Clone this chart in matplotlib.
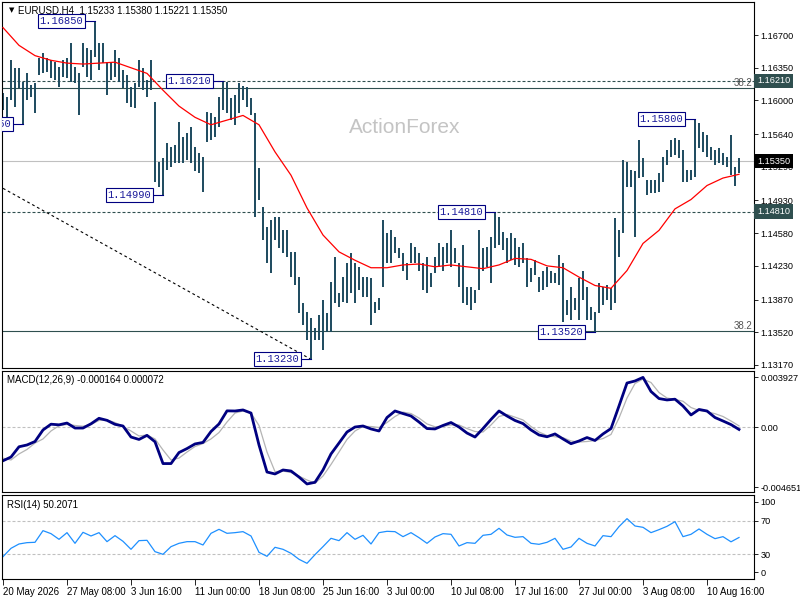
#EURUSD H4 chart with MACD and RSI panels
import numpy as np
import matplotlib
matplotlib.use("Agg")
from matplotlib import pyplot as plt
from matplotlib import transforms

plt.rcParams['font.family'] = ['Liberation Sans', 'DejaVu Sans']

# one entry per two H4 bars
bar_high = [
    1.1608, 1.1604, 1.1643, 1.1635, 1.1635, 1.1620, 1.1629, 1.1617, 1.1619, 1.1645,
    1.1651, 1.1645, 1.1643, 1.1641, 1.1636, 1.1643, 1.1645, 1.1661, 1.1636, 1.1629,
    1.1661, 1.1656, 1.1654, 1.1685, 1.1661, 1.1661, 1.1641, 1.1640, 1.1654, 1.1645,
    1.1633, 1.1627, 1.1614, 1.1619, 1.1643, 1.1635, 1.1622, 1.1643, 1.1598, 1.1534,
    1.1538, 1.1555, 1.1550, 1.1552, 1.1577, 1.1561, 1.1565, 1.1572, 1.1550, 1.1544,
    1.1539, 1.1588, 1.1587, 1.1582, 1.1604, 1.1621, 1.1620, 1.1603, 1.1606, 1.1619,
    1.1616, 1.1614, 1.1603, 1.1587, 1.1528, 1.1486, 1.1465, 1.1472, 1.1475, 1.1475,
    1.1461, 1.1461, 1.1438, 1.1438, 1.1411, 1.1383, 1.1374, 1.1367, 1.1357, 1.1370,
    1.1387, 1.1373, 1.1406, 1.1433, 1.1394, 1.1411, 1.1426, 1.1437, 1.1426, 1.1422,
    1.1411, 1.1411, 1.1410, 1.1384, 1.1389, 1.1472, 1.1458, 1.1461, 1.1454, 1.1442,
    1.1437, 1.1426, 1.1447, 1.1443, 1.1437, 1.1426, 1.1433, 1.1415, 1.1433, 1.1448,
    1.1443, 1.1447, 1.1461, 1.1442, 1.1426, 1.1445, 1.1400, 1.1400, 1.1397, 1.1461,
    1.1442, 1.1443, 1.1454, 1.1481, 1.1475, 1.1459, 1.1453, 1.1458, 1.1453, 1.1443,
    1.1448, 1.1431, 1.1421, 1.1429, 1.1411, 1.1418, 1.1422, 1.1418, 1.1415, 1.1435,
    1.1426, 1.1387, 1.1400, 1.1389, 1.1410, 1.1417, 1.1400, 1.1379, 1.1374, 1.1405,
    1.1400, 1.1402, 1.1399, 1.1474, 1.1461, 1.1536, 1.1534, 1.1526, 1.1524, 1.1558,
    1.1538, 1.1515, 1.1515, 1.1515, 1.1522, 1.1539, 1.1547, 1.1558, 1.1560, 1.1558,
    1.1547, 1.1526, 1.1526, 1.1580, 1.1576, 1.1566, 1.1563, 1.1550, 1.1547, 1.1549,
    1.1544, 1.1539, 1.1563, 1.1529, 1.1538]
bar_low = [
    1.1590, 1.1581, 1.1600, 1.1593, 1.1613, 1.1575, 1.1600, 1.1604, 1.1587, 1.1627,
    1.1629, 1.1630, 1.1624, 1.1622, 1.1614, 1.1625, 1.1624, 1.1620, 1.1619, 1.1584,
    1.1636, 1.1625, 1.1622, 1.1647, 1.1633, 1.1640, 1.1606, 1.1622, 1.1625, 1.1620,
    1.1613, 1.1597, 1.1593, 1.1592, 1.1614, 1.1611, 1.1604, 1.1611, 1.1513, 1.1507,
    1.1499, 1.1526, 1.1529, 1.1533, 1.1533, 1.1533, 1.1536, 1.1533, 1.1524, 1.1522,
    1.1502, 1.1556, 1.1558, 1.1561, 1.1572, 1.1590, 1.1587, 1.1579, 1.1574, 1.1587,
    1.1600, 1.1593, 1.1584, 1.1475, 1.1494, 1.1451, 1.1426, 1.1415, 1.1451, 1.1442,
    1.1437, 1.1433, 1.1411, 1.1402, 1.1373, 1.1360, 1.1344, 1.1323, 1.1344, 1.1344,
    1.1333, 1.1352, 1.1352, 1.1383, 1.1379, 1.1384, 1.1383, 1.1394, 1.1383, 1.1397,
    1.1390, 1.1390, 1.1360, 1.1373, 1.1376, 1.1400, 1.1426, 1.1426, 1.1437, 1.1431,
    1.1418, 1.1408, 1.1426, 1.1426, 1.1418, 1.1397, 1.1394, 1.1400, 1.1415, 1.1422,
    1.1418, 1.1426, 1.1422, 1.1426, 1.1400, 1.1383, 1.1381, 1.1376, 1.1383, 1.1397,
    1.1418, 1.1422, 1.1405, 1.1442, 1.1445, 1.1440, 1.1426, 1.1429, 1.1424, 1.1422,
    1.1426, 1.1400, 1.1406, 1.1413, 1.1395, 1.1397, 1.1400, 1.1405, 1.1405, 1.1402,
    1.1363, 1.1370, 1.1365, 1.1376, 1.1365, 1.1387, 1.1365, 1.1365, 1.1352, 1.1373,
    1.1381, 1.1387, 1.1376, 1.1383, 1.1433, 1.1458, 1.1507, 1.1507, 1.1454, 1.1517,
    1.1518, 1.1499, 1.1501, 1.1501, 1.1502, 1.1513, 1.1531, 1.1539, 1.1542, 1.1538,
    1.1513, 1.1513, 1.1515, 1.1518, 1.1549, 1.1545, 1.1539, 1.1536, 1.1531, 1.1533,
    1.1531, 1.1529, 1.1520, 1.1509, 1.1522]

# moving average, read every 4th entry
ma_values = [
    1.1678, 1.1659, 1.1648, 1.1643, 1.1640, 1.1639, 1.1640, 1.1641, 1.1635, 1.1629,
    1.1611, 1.1594, 1.1582, 1.1574, 1.1579, 1.1584, 1.1574, 1.1545, 1.1520, 1.1485,
    1.1456, 1.1438, 1.1429, 1.1421, 1.1421, 1.1424, 1.1425, 1.1422, 1.1424, 1.1422,
    1.1420, 1.1424, 1.1431, 1.1430, 1.1423, 1.1421, 1.1411, 1.1402, 1.1399, 1.1418,
    1.1447, 1.1461, 1.1484, 1.1494, 1.1509, 1.1517, 1.1521]

# indicators, read every 2nd entry
macd_main = [
    -0.00260, -0.00231, -0.00151, -0.00137, -0.00110, -0.00020, 0.00025, 0.00020, 0.00034, -0.00005,
    -0.00005, 0.00028, 0.00071, 0.00055, 0.00024, 0.00011, -0.00075, -0.00094, -0.00062, -0.00112,
    -0.00282, -0.00282, -0.00196, -0.00165, -0.00129, -0.00117, -0.00032, 0.00027, 0.00129, 0.00128,
    0.00136, 0.00112, -0.00137, -0.00348, -0.00363, -0.00332, -0.00340, -0.00387, -0.00441, -0.00428,
    -0.00332, -0.00207, -0.00122, -0.00036, 0.00003, 0.00011, -0.00012, -0.00028, 0.00077, 0.00128,
    0.00108, 0.00089, 0.00042, -0.00009, -0.00012, 0.00015, 0.00038, 0.00003, -0.00044, -0.00075,
    -0.00009, 0.00062, 0.00128, 0.00089, 0.00054, 0.00030, -0.00020, -0.00059, -0.00073, -0.00051,
    -0.00090, -0.00127, -0.00106, -0.00079, -0.00102, -0.00051, -0.00009, 0.00167, 0.00346, 0.00362,
    0.00390, 0.00280, 0.00225, 0.00214, 0.00220, 0.00167, 0.00097, 0.00140, 0.00128, 0.00077,
    0.00050, 0.00022, -0.00016]
macd_signal = [
    -0.00240, -0.00254, -0.00207, -0.00172, -0.00122, -0.00090, -0.00028, 0.00013, 0.00023, 0.00015,
    0.00009, 0.00023, 0.00054, 0.00058, 0.00038, 0.00007, -0.00028, -0.00067, -0.00059, -0.00090,
    -0.00176, -0.00254, -0.00239, -0.00192, -0.00149, -0.00126, -0.00090, -0.00040, 0.00042, 0.00112,
    0.00128, 0.00112, 0.00015, -0.00192, -0.00345, -0.00340, -0.00352, -0.00380, -0.00410, -0.00436,
    -0.00379, -0.00289, -0.00192, -0.00094, -0.00028, 0.00007, 0.00007, -0.00001, 0.00038, 0.00085,
    0.00119, 0.00108, 0.00073, 0.00027, 0.00005, 0.00009, 0.00019, 0.00019, -0.00009, -0.00032,
    -0.00036, 0.00019, 0.00085, 0.00101, 0.00080, 0.00058, 0.00007, -0.00036, -0.00063, -0.00073,
    -0.00080, -0.00106, -0.00114, -0.00110, -0.00102, -0.00087, -0.00055, 0.00073, 0.00229, 0.00342,
    0.00377, 0.00350, 0.00272, 0.00229, 0.00218, 0.00204, 0.00155, 0.00132, 0.00122, 0.00107,
    0.00085, 0.00050, 0.00012]
rsi_values = [
    27.2, 37.2, 42.4, 44.0, 44.4, 58.4, 54.8, 48.0, 56.0, 43.2,
    56.4, 52.0, 56.0, 45.2, 52.4, 45.6, 36.0, 46.4, 46.8, 33.2,
    30.0, 39.2, 43.2, 45.2, 45.2, 41.2, 55.2, 60.0, 55.2, 56.0,
    57.2, 52.0, 32.4, 27.6, 38.4, 36.0, 31.2, 24.0, 19.2, 29.6,
    39.2, 49.2, 46.4, 56.0, 48.0, 52.8, 42.4, 56.0, 57.6, 57.2,
    51.2, 56.0, 50.0, 43.2, 50.8, 54.8, 54.0, 40.0, 44.0, 43.2,
    52.8, 54.0, 61.2, 53.2, 50.4, 51.2, 43.2, 42.0, 44.4, 49.2,
    36.0, 38.8, 49.2, 43.2, 40.0, 52.4, 51.2, 63.2, 72.8, 64.0,
    62.4, 56.0, 59.6, 63.6, 69.2, 51.2, 54.0, 60.4, 54.0, 48.8,
    51.2, 45.0, 50.2]

date_labels = ["20 May 2026", "27 May 08:00", "3 Jun 16:00", "11 Jun 00:00", "18 Jun 08:00",
               "25 Jun 16:00", "3 Jul 00:00", "10 Jul 08:00", "17 Jul 16:00", "27 Jul 00:00",
               "3 Aug 08:00", "10 Aug 16:00"]
date_bars = [0, 16, 32, 48, 64, 80, 96, 112, 128, 144, 160, 176]

price_ticks = [1.16700, 1.16350, 1.16000, 1.15640, 1.15290, 1.14930,
               1.14580, 1.14230, 1.13870, 1.13520, 1.13170]

swing_bars = [23, 5, 55, 40, 77, 123, 148, 173]
swing_prices = [1.16850, 1.15750, 1.16210, 1.14990, 1.13230, 1.14810, 1.13520, 1.15800]

sr_levels = [1.16210, 1.14810]
fib_levels = [1.16130, 1.13530]
last_price = 1.15350
trend_bars = [0, 77]
trend_prices = [1.1506, 1.1323]

bar_color = "#1c4a5e"
line_color = "#2f4f4f"
navy = "#000080"
dash = (0, (2.7, 1.8))
tick_fs = 6.6

fig = plt.figure(figsize=(8, 6), dpi=100)
ax_p = fig.add_axes([2/800, 1 - 368/600, 752/800, 366/600])
ax_m = fig.add_axes([2/800, 1 - 492/600, 752/800, 121/600])
ax_r = fig.add_axes([2/800, 1 - 579/600, 752/800, 84/600])

for ax in (ax_p, ax_m, ax_r):
    ax.set_xlim(-0.25, 187.75)
    for sp in ax.spines.values():
        sp.set_linewidth(0.8)
        sp.set_color("black")
    ax.yaxis.tick_right()
    ax.tick_params(axis="y", direction="out", length=3, width=0.6, labelsize=tick_fs, pad=1.5)
    ax.set_xticks([])

# price panel
idx = np.arange(len(bar_high))
ax_p.set_ylim(1.13137, 1.17054)
ax_p.text(0.536, 0.656, "ActionForex", transform=ax_p.transAxes, fontsize=15,
          color="#c4c4c4", ha="center", va="center", zorder=0)
for lv in sr_levels:
    ax_p.axhline(lv, color=line_color, lw=0.8, linestyle=dash, zorder=1)
for lv in fib_levels:
    ax_p.axhline(lv, color=line_color, lw=0.8, zorder=1)
ax_p.axhline(last_price, color="#c0c0c0", lw=0.8, zorder=1)
ax_p.plot(trend_bars, trend_prices, color="black", lw=0.8, linestyle=(0, (2.5, 2.5)), zorder=1)
ax_p.vlines(idx, bar_low, bar_high, color=bar_color, lw=1.4, zorder=2)
ax_p.plot(np.arange(len(ma_values)) * 4, ma_values, color="red", lw=0.9, zorder=3)

for b, p in zip(swing_bars, swing_prices):
    ax_p.plot([b - 2.5, b], [p, p], color=navy, lw=0.8, zorder=5)
    ax_p.text(b - 2.9, p, "%.5f" % p, ha="right", va="center", family="Liberation Mono",
              fontsize=7.5, color="#1a1a9a", zorder=6, clip_on=True,
              bbox=dict(boxstyle="square,pad=0.2", fc="white", ec=navy, lw=0.8))

ax_p.set_yticks(price_ticks)
ax_p.set_yticklabels(["%.5f" % t for t in price_ticks])

trans = transforms.blended_transform_factory(ax_p.transAxes, ax_p.transData)
for lv in fib_levels:
    ax_p.text(0.998, lv + 0.00005, "38.2", transform=trans, ha="right", va="bottom",
              fontsize=7, color="#555555")
for lv in sr_levels:
    ax_p.text(1.004, lv, "%.5f" % lv, transform=trans, ha="left", va="center", fontsize=tick_fs,
              color="white", clip_on=False, zorder=10,
              bbox=dict(boxstyle="square,pad=0.3", fc=line_color, ec="none"))
ax_p.text(1.004, last_price, "%.5f" % last_price, transform=trans, ha="left", va="center",
          fontsize=tick_fs, color="white", clip_on=False, zorder=10,
          bbox=dict(boxstyle="square,pad=0.3", fc="black", ec="none"))

ax_p.text(0.009, 0.978, "\u25bc", transform=ax_p.transAxes, fontsize=5, va="center",
          family=["DejaVu Sans"])
ax_p.text(0.021, 0.978, "EURUSD,H4  1.15233 1.15380 1.15221 1.15350",
          transform=ax_p.transAxes, fontsize=7, va="center")

# MACD panel
k = np.arange(len(macd_main)) * 2
ax_m.set_ylim(-0.005037, 0.004398)
ax_m.axhline(0, color="#c0c0c0", lw=0.8, linestyle=dash)
ax_m.plot(k, macd_signal, color="#b4b4b4", lw=0.9)
ax_m.plot(k, macd_main, color=navy, lw=2.0)
ax_m.set_yticks([0.003927, 0.0, -0.004651])
ax_m.set_yticklabels(["0.003927", "0.00", "-0.004651"])
ax_m.text(0.0066, 0.926, "MACD(12,26,9) -0.000164 0.000072", transform=ax_m.transAxes,
          fontsize=7, va="center")

# RSI panel
ax_r.set_ylim(0.36, 101.2)
for lv in (70, 30):
    ax_r.axhline(lv, color="#c0c0c0", lw=0.8, linestyle=dash)
ax_r.plot(k, rsi_values, color="#1e90ff", lw=0.9)
ax_r.set_yticks([8.4, 30, 70, 93])
ax_r.set_yticklabels(["0", "30", "70", "100"])
ax_r.text(0.0066, 0.88, "RSI(14) 50.2071", transform=ax_r.transAxes, fontsize=7, va="center")

ax_r.set_xticks(date_bars)
ax_r.set_xticklabels(date_labels)
ax_r.tick_params(axis="x", direction="out", length=4, width=0.6, labelsize=7, pad=2)
for lab in ax_r.get_xticklabels():
    lab.set_ha("left")

fig.savefig("out.png", dpi=100)
